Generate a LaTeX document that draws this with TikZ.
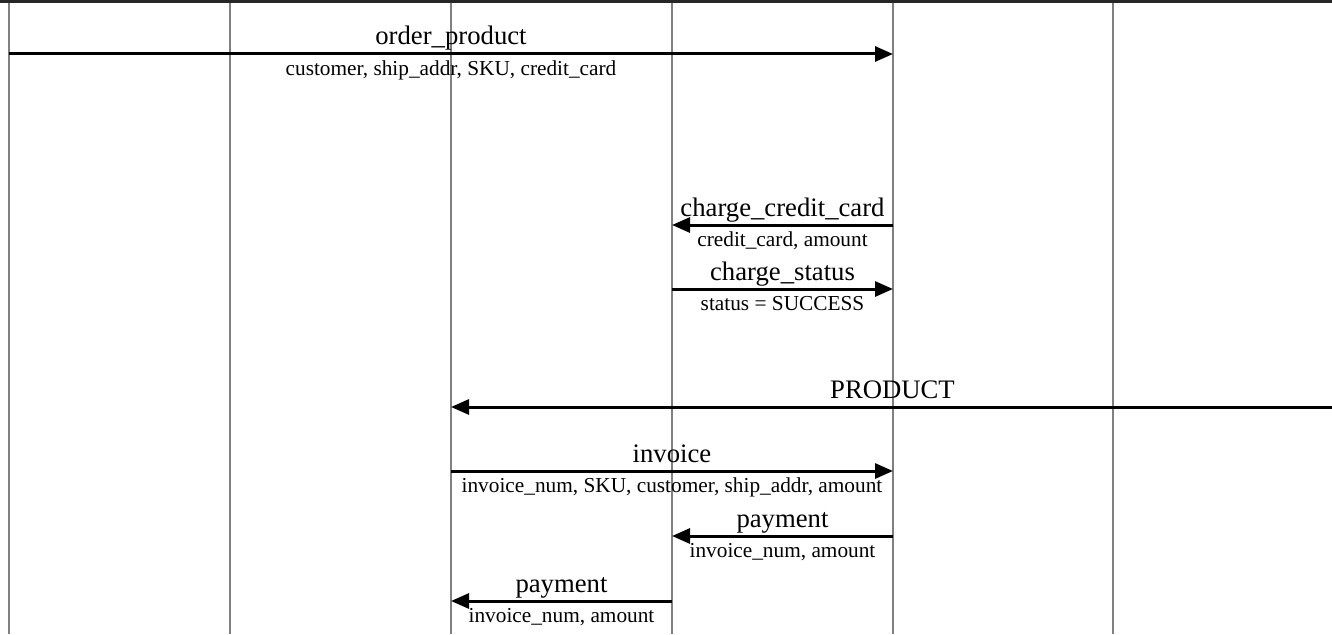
\documentclass[tikz,border=0pt]{standalone}
\usepackage{fontspec}
\setmainfont{Liberation Serif}
\usetikzlibrary{arrows.meta}
\tikzset{
  lifeline/.style={draw=gray, line width=2.2pt},
  msg/.style={draw=black, line width=3pt, -{Triangle[length=18pt,width=15pt]}},
  msglabel/.style={anchor=base, inner sep=0pt, yshift=9pt, font=\fontsize{26.7}{30}\selectfont},
  msgargs/.style={anchor=base, inner sep=0pt, yshift=-21pt, font=\fontsize{21.3}{24}\selectfont},
}
\begin{document}
\begin{tikzpicture}[x=1pt, y=-1pt]
  \useasboundingbox (0,0) rectangle (1332,634);
  % Lifelines, the last one lies just past the right edge
  \foreach \i/\x in {1/9, 2/230, 3/451, 4/672, 5/893, 6/1113, 7/1334} {
    \coordinate (l\i) at (\x,0);
    \draw [lifeline] (l\i) -- ++(0,634);
  }
  % Bottom edge of the heads
  \draw [black!85, line width=3pt] (0,1.5) -- (1332,1.5);

  % Messages with their arguments
  \foreach \from/\to/\y/\lab/\args in {
    1/5/54/{order\_product}/{customer, ship\_addr, SKU, credit\_card},
    5/4/225/{charge\_credit\_card}/{credit\_card, amount},
    4/5/289/{charge\_status}/{status = SUCCESS},
    3/5/471/{invoice}/{invoice\_num, SKU, customer, ship\_addr, amount},
    5/4/536/{payment}/{invoice\_num, amount},
    4/3/601/{payment}/{invoice\_num, amount}} {
    \draw [msg] (l\from |- 0,\y) -- node [msglabel] {\lab} node [msgargs] {\args} (l\to |- 0,\y);
  }
  % The product goes back with no arguments
  \draw [msg] (l7 |- 0,407) -- node [msglabel] {PRODUCT} (l3 |- 0,407);
\end{tikzpicture}
\end{document}
